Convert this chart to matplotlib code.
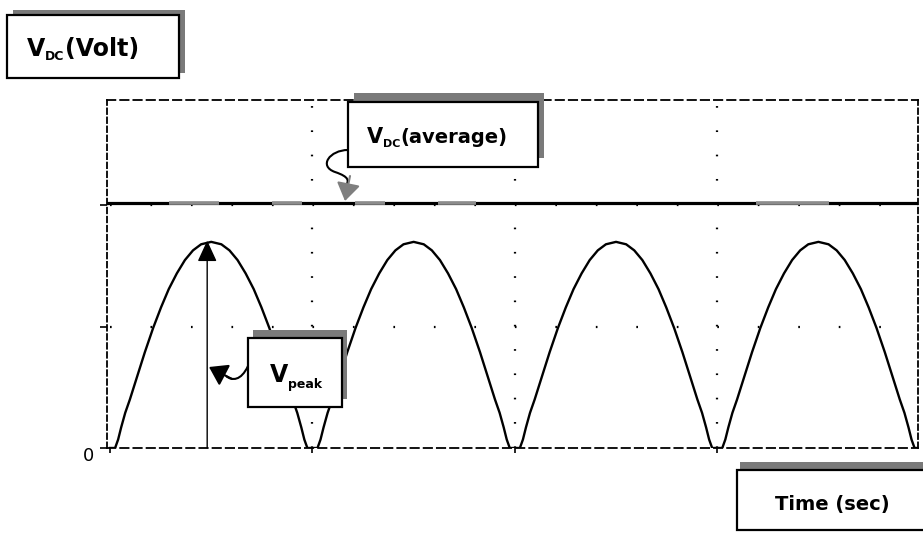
import numpy as np
import matplotlib.pyplot as plt
from matplotlib.patches import Rectangle, PathPatch, FancyArrowPatch
from matplotlib.path import Path

plt.rcParams['lines.scale_dashes'] = False
plt.rcParams['font.family'] = 'DejaVu Sans'

# one rectified half cycle (phase in periods, volts in grid units)
hump_phase = [0.0, 0.025, 0.04, 0.055, 0.075, 0.098, 0.134, 0.172, 0.213, 0.252, 0.29,
              0.33, 0.37, 0.41, 0.45, 0.5, 0.55, 0.59, 0.63, 0.67, 0.71, 0.748,
              0.787, 0.828, 0.866, 0.902, 0.925, 0.945, 0.96, 0.975, 1.0]
hump_volts = [0.0, 0.0, 0.07, 0.17, 0.29, 0.40, 0.59, 0.79, 0.99, 1.16, 1.31,
              1.44, 1.55, 1.63, 1.68, 1.70, 1.68, 1.63, 1.55, 1.44, 1.31, 1.16,
              0.99, 0.79, 0.59, 0.40, 0.29, 0.17, 0.07, 0.0, 0.0]
hump_starts = [0, 1, 2, 3]

v_dc = 2.02        # average level
v_peak = 1.71      # peak marked by the arrow
t_peak = 0.48
x_grid = [1, 2, 3]
y_grid = [1, 2]
# grey patches on the DC line (as in the scan)
dc_gray_spans = [(0.29, 0.54), (0.80, 0.95), (1.21, 1.36), (1.62, 1.81), (3.19, 3.55)]

W, H = 923, 534
fig = plt.figure(figsize=(W / 100, H / 100), dpi=100)
ax = fig.add_axes([107 / W, 86 / H, 811 / W, 348 / H])
renderer = fig.canvas.get_renderer()


def fpx(x, y):
    # image pixel (origin top left) -> figure fraction
    return x / W, 1 - y / H


# waveform
t_all, v_all = [], []
for s in hump_starts:
    t_all += [s + p for p in hump_phase]
    v_all += hump_volts
ax.plot(t_all, v_all, color='black', lw=1.7, zorder=5)

# DC average line
ax.axhline(v_dc, color='black', lw=2.3, zorder=3)
for a, b in dc_gray_spans:
    ax.hlines(v_dc, a, b, color='#8c8c8c', lw=2.6, zorder=4)

# dotted grid
for x in x_grid:
    ax.plot([x, x], [0, 2.9], color='black', lw=1.6, ls=(0, (1.2, 16.3)), zorder=1)
for y in y_grid:
    ax.plot([0, 4.1], [y, y], color='black', lw=1.6, ls=(0, (1.2, 27.95)), zorder=1)

ax.set_xlim(-0.015, 3.992)
ax.set_ylim(0, 2.87)
ax.set_xticks([0, 1, 2, 3])
ax.set_xticklabels([])
ax.set_yticks([0, 1, 2])
ax.set_yticklabels([])
ax.tick_params(axis='x', direction='out', length=3.5, width=1.2)
ax.tick_params(axis='y', direction='out', length=5, width=1.2)
for side in ['top', 'bottom']:
    ax.spines[side].set_linestyle((0, (6, 3.5)))
    ax.spines[side].set_linewidth(1.3)
for side in ['left', 'right']:
    ax.spines[side].set_linestyle((0, (4, 2.5)))
    ax.spines[side].set_linewidth(1.3)

fig.text(*fpx(88, 456), '0', fontsize=13, ha='center', va='center')

# vertical V_peak arrow
ax.annotate('', xy=(t_peak, v_peak), xytext=(t_peak, 0),
            arrowprops=dict(arrowstyle='-|>,head_length=0.65,head_width=0.3',
                            color='black', lw=1.0, mutation_scale=20,
                            shrinkA=0, shrinkB=0), zorder=6)


def chain_text(x, y, pieces):
    # pieces: (text, fontsize, baseline shift in px)
    for s, size, dy in pieces:
        t = fig.text(*fpx(x, y + dy), s, fontsize=size, fontweight='bold',
                     ha='left', va='baseline', zorder=12)
        x += t.get_window_extent(renderer).width * W / fig.bbox.width


def callout(x0, y0, x1, y1, dx, dy):
    shadow = Rectangle(fpx(x0 + dx, y1 + dy), (x1 - x0) / W, (y1 - y0) / H,
                       transform=fig.transFigure, facecolor='#7a7a7a',
                       edgecolor='none', zorder=10)
    front = Rectangle(fpx(x0, y1), (x1 - x0) / W, (y1 - y0) / H,
                      transform=fig.transFigure, facecolor='white',
                      edgecolor='black', lw=1.6, zorder=11)
    fig.add_artist(shadow)
    fig.add_artist(front)


def curve(points, color='black'):
    codes = [Path.MOVETO] + [Path.CURVE4] * (len(points) - 1)
    fig.add_artist(PathPatch(Path([fpx(*p) for p in points], codes),
                             transform=fig.transFigure, facecolor='none',
                             edgecolor=color, lw=1.5, zorder=9))


def head(p0, p1, color):
    fig.add_artist(FancyArrowPatch(fpx(*p0), fpx(*p1), transform=fig.transFigure,
                                   arrowstyle='-|>,head_length=0.6,head_width=0.4',
                                   mutation_scale=18, color=color, lw=1.5,
                                   shrinkA=0, shrinkB=0, zorder=9))


# V_DC(Volt)
callout(7, 15, 179, 78, 6, -5)
chain_text(27, 56, [('V', 17, 0), ('DC', 9, 4), ('(Volt)', 17, 0)])

# V_DC(average)
callout(348, 102, 538, 167, 6, -9)
chain_text(367, 143, [('V', 15, 0), ('DC', 8, 4), ('(average)', 14, 0)])

# V_peak
callout(248, 338, 342, 407, 5, -8)
chain_text(270, 382, [('V', 17, 0), ('peak', 9, 6)])

# Time (sec)
callout(737, 470, 940, 530, 3, -8)
chain_text(775, 510, [('Time (sec)', 14, 0)])

# curved pointer from the V_DC(average) box (grey head)
curve([(348, 150), (330, 150), (318, 166), (335, 172),
       (350, 177), (348, 181), (347, 184)])
head((350, 176), (345, 201), '#7f7f7f')

# curved pointer from the V_peak box (black head)
curve([(248, 366), (241, 381), (232, 381), (226, 376)])
head((232, 379), (209, 367), 'black')

fig.savefig('out.png', dpi=100)
